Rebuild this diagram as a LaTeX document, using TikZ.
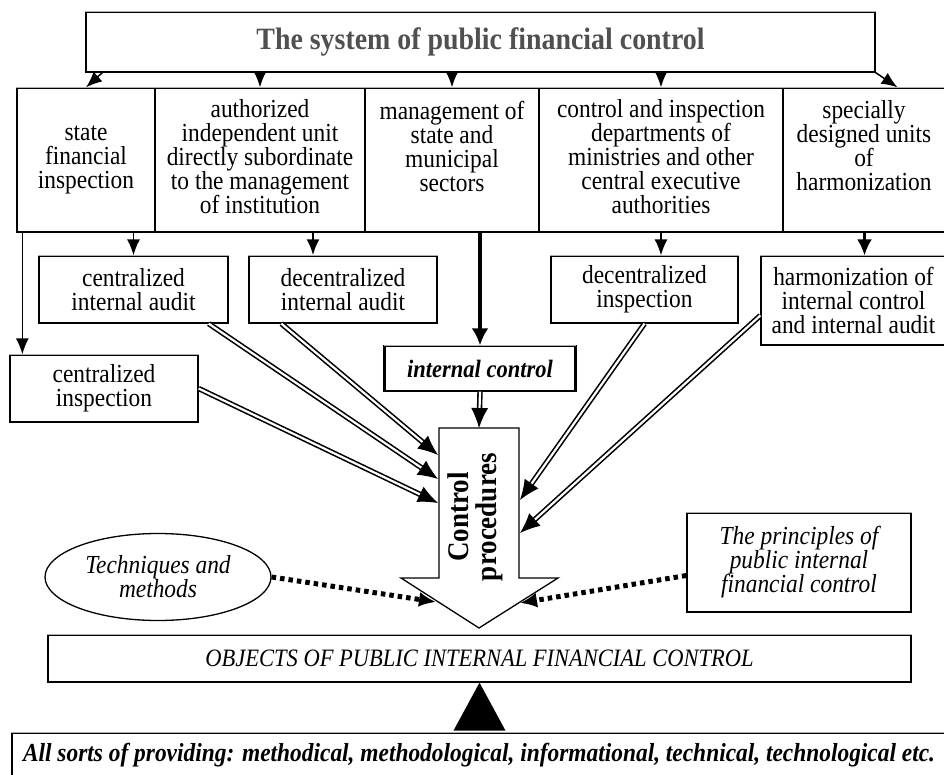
\documentclass[tikz,border=0pt]{standalone}
\usepackage{fontspec}
\setmainfont{Liberation Serif}[FakeStretch=0.9]
\usepackage{tikz}
\usetikzlibrary{arrows.meta,calc,shapes.geometric}
\definecolor{titlegray}{RGB}{80,80,80}
\definecolor{edgegray}{RGB}{175,175,175}

\begin{document}
\begin{tikzpicture}[x=1pt,y=-1pt,line cap=round,
  box/.style={draw,line width=1.3pt,inner sep=0pt},
  txt/.style={font=\fontsize{26}{24}\selectfont,align=center,inner sep=0pt},
  topedge/.style={edgegray,line width=1.6pt,line cap=butt},
  arr/.style={-{Latex[length=16pt,width=13pt]},line width=1.5pt},
  dbl/.style={double,double distance=2.2pt,line width=1.6pt,line cap=butt,shorten >=14pt},
  dbltip/.style={-{Latex[length=20pt,width=17pt]},line width=1pt},
  dots/.style={line width=5pt,dash pattern=on 4.5pt off 4pt,line cap=butt,-{Latex[length=17pt,width=15pt]}}]
  \useasboundingbox (0,0) rectangle (944,775);

  % top box and the five bodies under it
  \node[box,minimum width=789pt,minimum height=60pt,font=\fontsize{31}{31}\selectfont\bfseries,text=titlegray]
    (title) at (480.5,42) {The system of public financial control};
  \node[box,minimum width=138pt,minimum height=144pt] (col1) at (86,160) {};
  \node[box,minimum width=210pt,minimum height=144pt] (col2) at (260,160) {};
  \node[box,minimum width=174pt,minimum height=144pt] (col3) at (452,160) {};
  \node[box,minimum width=244pt,minimum height=144pt] (col4) at (661,160) {};
  \node[box,minimum width=163pt,minimum height=144pt] (col5) at (864.5,160) {};
  \node[txt] (t1) at (col1.center) {state\\financial\\inspection};
  \node[txt] (t2) at (260,157) {authorized\\independent unit\\directly subordinate\\to the management\\of institution};
  \node[txt] (t3) at (452,146) {management of\\state and\\municipal\\sectors};
  \node[txt] (t4) at (661,157) {control and inspection\\departments of\\ministries and other\\central executive\\authorities};
  \node[txt] (t5) at (864,146) {specially\\designed units\\of\\harmonization};

  \draw[arr] ([xshift=17pt]title.south west) -- (col1.north);
  \draw[arr] (title.south -| col2.north) -- (col2.north);
  \draw[arr] (title.south -| col3.north) -- (col3.north);
  \draw[arr] (title.south -| col4.north) -- (col4.north);
  \draw[arr] (title.south east) -- ([xshift=33pt]col5.north);

  % second level
  \node[box,txt,minimum width=189pt,minimum height=67pt] (cia) at (133.5,289.5) {centralized\\internal audit};
  \node[box,txt,minimum width=188pt,minimum height=67pt] (dia) at (343,289.5) {decentralized\\internal audit};
  \node[box,txt,minimum width=188pt,minimum height=67pt] (ci) at (104,388.5) {centralized\\inspection};
  \node[box,txt,minimum width=187pt,minimum height=67pt] (dinsp) at (644.5,289.5) {decentralized\\inspection};
  \node[box,txt,minimum width=185pt,minimum height=89pt] (harm) at (853.5,300.5) {harmonization of\\internal control\\and internal audit};
  \node[box,txt,minimum width=190pt,minimum height=45pt,font=\fontsize{25}{25}\selectfont\bfseries\itshape]
    (ic) at (480,368.5) {internal control};
  \draw[line width=3pt,line cap=butt] (ic.north west) -- (ic.south west) (ic.north east) -- (ic.south east);

  \draw[arr] ([xshift=13pt]ci.north west |- col1.south) -- ([xshift=13pt]ci.north west);
  \draw[arr] (col1.south -| cia.north) -- (cia.north);
  \draw[arr,line width=2.5pt] ([xshift=-30pt]dia.north |- col2.south) -- ([xshift=-30pt]dia.north);
  \draw[arr,line width=3.5pt,-{Latex[length=17pt,width=17pt]}] (col3.south -| ic.north) -- (ic.north);
  \draw[arr] (col4.south) -- (col4.south |- dinsp.north);
  \draw[arr,line width=2.5pt,-{Latex[length=16pt,width=15pt]}] (col5.south) -- (col5.south |- harm.north);

  % big hollow arrow
  \draw[line width=1.3pt,fill=white,line join=miter] (439,428) -- (519,428) -- (519,578) -- (558,578)
    -- (479,628) -- (401,578) -- (439,578) -- cycle;
  \node[rotate=90,align=center,inner sep=0pt,font=\fontsize{30}{28}\selectfont\bfseries] (cp) at (475,517) {Control\\procedures};
  \coordinate (cpIn) at (479,428);
  \coordinate (cpL1) at (438,455);
  \coordinate (cpL2) at (438,479);
  \coordinate (cpL3) at (438,503);
  \coordinate (cpR1) at (520,500);
  \coordinate (cpR2) at (520,533);
  \coordinate (cpH1) at (436,602);
  \coordinate (cpH2) at (520,603);

  \coordinate (diaS) at ([xshift=33pt]dia.south west);
  \coordinate (ciaS) at ([xshift=-20pt]cia.south east);
  \coordinate (harmW) at ([yshift=-15pt]harm.west);
  \foreach \a/\b in {diaS/cpL1,ciaS/cpL2,ci.east/cpL3,dinsp.south/cpR1,harmW/cpR2,ic.south/cpIn} {
    \draw[dbl] (\a) -- (\b);
    \draw[dbltip] ($(\b)!16pt!(\a)$) -- (\b);
  }

  % side inputs
  \node[draw,ellipse,line width=1.3pt,minimum width=226pt,minimum height=87pt,inner sep=0pt,
    font=\fontsize{26}{24}\selectfont\itshape,align=center] (tech) at (158,577) {Techniques and\\methods};
  \node[box,txt,minimum width=224pt,minimum height=99pt,font=\fontsize{26}{24}\selectfont\itshape]
    (principles) at (799,562.5) {The principles of\\public internal\\financial control};
  \draw[dots] (tech.east) -- (cpH1);
  \draw[dots] ([yshift=-13pt]principles.west) -- (cpH2);

  % objects and support
  \node[box,txt,minimum width=863pt,minimum height=47pt,font=\fontsize{25}{25}\selectfont\itshape]
    (objects) at (479.5,658.5) {OBJECTS OF PUBLIC INTERNAL FINANCIAL CONTROL};
  \node[box,txt,minimum width=934pt,minimum height=44pt,font=\fontsize{26}{26}\selectfont\bfseries\itshape]
    (prov) at (479,755) {All sorts of providing: methodical, methodological, informational, technical, technological etc.};
  \fill (objects.south) -- ++(-26,48) -- ++(52,0) -- cycle;

  \foreach \n in {title,col1,col2,col3,col4,col5,cia,dia,ci,dinsp,harm,ic,principles,objects,prov}
    \draw[topedge] (\n.north west) -- (\n.north east);
\end{tikzpicture}
\end{document}
